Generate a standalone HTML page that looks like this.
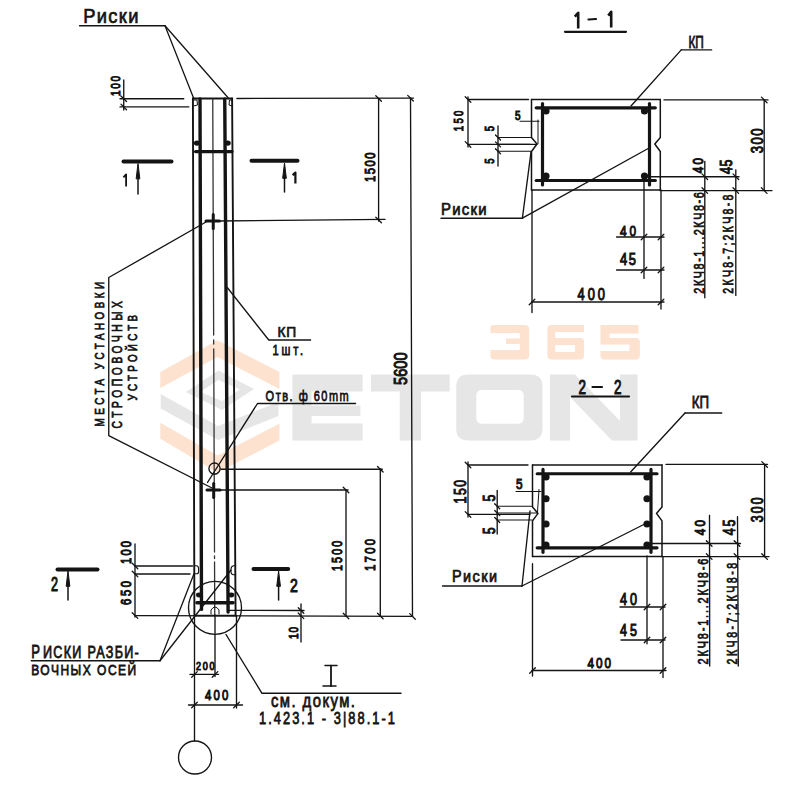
<!DOCTYPE html>
<html><head><meta charset="utf-8"><style>
html,body{margin:0;padding:0;background:#fff;width:800px;height:800px;overflow:hidden}
svg{display:block}
text{font-family:"Liberation Sans",sans-serif}
</style></head><body>
<svg width="800" height="800" viewBox="0 0 800 800">
<rect width="800" height="800" fill="#fff"/>
<g><polygon points="160.3,372 217.5,340.3 279.4,372 279.4,389 217.5,357 160.3,388" fill="#fde2cf"/><polygon points="160.3,422.8 217.5,455.6 279.4,423.8 279.4,440.6 217.5,472.5 160.3,438.8" fill="#fde2cf"/><polygon points="160.7,394 218,426 278.5,402 278.5,416 218,440 160.7,408.6" fill="#e6e6e6"/><path d="M186,392 L218.4,370.5 L254,389 L222,410 Z M200,392 L218.4,380 L240,389.5 L222,401 Z" fill="#e6e6e6" fill-rule="evenodd"/><path d="M292.4,374.6 H362.6 V391.6 H311.6 V405.4 H360.4 V416 H311.6 V423.4 H362.6 V440.4 H292.4 Z" fill="#e6e6e6"/><path d="M371,374.6 H449.7 V391.6 H421 V440.4 H399.7 V391.6 H371 Z" fill="#e6e6e6"/><path d="M468.25,374.5 H530.5 Q542.5,374.5 542.5,386.5 V428.5 Q542.5,440.5 530.5,440.5 H468.25 Q456.25,440.5 456.25,428.5 V386.5 Q456.25,374.5 468.25,374.5 Z M482.25,390 Q476.25,390 476.25,396 V417.75 Q476.25,423.75 482.25,423.75 H517.75 Q523.75,423.75 523.75,417.75 V396 Q523.75,390 517.75,390 Z" fill="#e6e6e6" fill-rule="evenodd"/><path d="M550,374.5 H575 L620,421 V374.5 H637.5 V440.5 H612 L570,397 V440.5 H550 Z" fill="#e6e6e6"/><path d="M493.5,325.1 H525.1 Q529.1,325.1 529.1,329.1 V355.6 Q529.1,359.6 525.1,359.6 H494.5 Q490.5,359.6 490.5,355.6 V350 H519.75 V344 H506 V338.5 H519.75 V333 H490.5 V328.1 Q490.5,325.1 493.5,325.1 Z" fill="#fde2cf"/><path d="M551.4,325.1 H584.1 V332 H555.25 V338 H580.1 Q584.1,338 584.1,342 V355.6 Q584.1,359.6 580.1,359.6 H551.4 Q547.4,359.6 547.4,355.6 V329.1 Q547.4,325.1 551.4,325.1 Z M555.25,345 V352 H575.1 V345 Z" fill="#fde2cf" fill-rule="evenodd"/><path d="M600.5,325.1 H638.5 V333.5 H609.5 V338 H635.9 Q639.9,338 639.9,342 V355.6 Q639.9,359.6 635.9,359.6 H604.5 Q600.5,359.6 600.5,355.6 V351 H629.4 V344.5 H600.5 Z" fill="#fde2cf"/></g>
<g stroke-linecap="round">
<line x1="192.90" y1="98.50" x2="194.40" y2="615.60" stroke="#141414" stroke-width="1.9" />
<line x1="232.10" y1="98.50" x2="235.60" y2="615.60" stroke="#141414" stroke-width="1.9" />
<line x1="192.90" y1="98.50" x2="232.30" y2="98.50" stroke="#141414" stroke-width="1.9" />
<line x1="194.40" y1="615.60" x2="235.60" y2="615.60" stroke="#141414" stroke-width="1.9" />
<line x1="200.00" y1="99.00" x2="201.50" y2="609.40" stroke="#141414" stroke-width="3.4" />
<line x1="224.75" y1="99.00" x2="228.10" y2="612.00" stroke="#141414" stroke-width="3.4" />
<line x1="212.75" y1="99.00" x2="213.66" y2="335.00" stroke="#333" stroke-width="1.3" />
<line x1="213.68" y1="340.00" x2="213.70" y2="344.00" stroke="#333" stroke-width="1.3" />
<line x1="213.72" y1="349.00" x2="214.51" y2="552.00" stroke="#333" stroke-width="1.3" />
<line x1="214.52" y1="556.00" x2="214.53" y2="558.50" stroke="#333" stroke-width="1.3" />
<line x1="214.54" y1="562.00" x2="214.75" y2="615.00" stroke="#333" stroke-width="1.3" />
<line x1="195.60" y1="151.60" x2="231.90" y2="151.60" stroke="#141414" stroke-width="3.4" />
<ellipse cx="196.90" cy="143.10" rx="3.00" ry="2.60" fill="#141414"/>
<ellipse cx="227.75" cy="143.10" rx="3.00" ry="2.60" fill="#141414"/>
<line x1="196.90" y1="602.75" x2="233.10" y2="602.75" stroke="#141414" stroke-width="3.4" />
<ellipse cx="199.00" cy="595.00" rx="3.00" ry="2.40" fill="#141414"/>
<ellipse cx="231.25" cy="595.00" rx="3.00" ry="2.40" fill="#141414"/>
<polyline points="193.50,100.00 197.00,100.00 197.50,105.00 193.50,106.00" fill="none" stroke="#141414" stroke-width="1" stroke-linejoin="round" />
<polyline points="232.00,100.00 229.50,100.00 229.00,105.00 232.30,106.00" fill="none" stroke="#141414" stroke-width="1" stroke-linejoin="round" />
<path d="M194.2,565.8 H196.5 Q198.6,566 198.6,569 V571.5 Q198.6,573.8 196.5,573.8 H194.2" fill="none" stroke="#141414" stroke-width="1.1"/>
<path d="M235.7,565.8 H233.5 Q231,566.5 231,569 V572 Q231,574.5 233.5,574.7 H235.7" fill="none" stroke="#141414" stroke-width="1.1"/>
<path d="M211,614 V610 Q215,604 219,610 V614" fill="none" stroke="#141414" stroke-width="1"/>
<text transform="translate(83.30,23.20) scale(0.9000,1)" x="0.00" y="0" font-size="20.35" font-weight="normal" fill="#141414" textLength="61.22" lengthAdjust="spacing" stroke="#141414" stroke-width="0.7" vector-effect="non-scaling-stroke" >Риски</text>
<line x1="79.50" y1="25.75" x2="165.00" y2="25.75" stroke="#141414" stroke-width="1.3" />
<line x1="165.00" y1="25.75" x2="193.75" y2="98.50" stroke="#141414" stroke-width="1.3" />
<line x1="165.00" y1="25.75" x2="228.75" y2="98.50" stroke="#141414" stroke-width="1.3" />
<line x1="120.00" y1="98.75" x2="183.75" y2="98.75" stroke="#141414" stroke-width="1.35" />
<line x1="120.00" y1="106.90" x2="188.75" y2="106.90" stroke="#141414" stroke-width="1.35" />
<line x1="123.75" y1="80.00" x2="123.75" y2="110.00" stroke="#141414" stroke-width="1.35" />
<line x1="120.95" y1="95.95" x2="126.55" y2="101.55" stroke="#141414" stroke-width="1.3" />
<line x1="120.95" y1="104.10" x2="126.55" y2="109.70" stroke="#141414" stroke-width="1.3" />
<text transform="translate(120.00,96.00) rotate(-90) scale(0.7800,1)" x="0.00" y="0" font-size="12.89" font-weight="normal" fill="#141414" textLength="25.65" lengthAdjust="spacing" stroke="#141414" stroke-width="0.95" vector-effect="non-scaling-stroke" >100</text>
<line x1="236.90" y1="98.50" x2="413.50" y2="98.20" stroke="#141414" stroke-width="1.3" />
<line x1="378.60" y1="98.50" x2="378.60" y2="221.00" stroke="#141414" stroke-width="1.35" />
<line x1="219.40" y1="221.00" x2="385.00" y2="219.40" stroke="#141414" stroke-width="1.35" />
<line x1="375.80" y1="95.70" x2="381.40" y2="101.30" stroke="#141414" stroke-width="1.3" />
<line x1="375.80" y1="217.20" x2="381.40" y2="222.80" stroke="#141414" stroke-width="1.3" />
<text transform="translate(375.00,182.00) rotate(-90) scale(0.7800,1)" x="0.00" y="0" font-size="14.33" font-weight="normal" fill="#141414" textLength="37.82" lengthAdjust="spacing" stroke="#141414" stroke-width="0.95" vector-effect="non-scaling-stroke" >1500</text>
<line x1="410.50" y1="98.00" x2="412.50" y2="616.40" stroke="#141414" stroke-width="1.35" />
<line x1="407.70" y1="95.40" x2="413.30" y2="101.00" stroke="#141414" stroke-width="1.3" />
<line x1="409.70" y1="613.60" x2="415.30" y2="619.20" stroke="#141414" stroke-width="1.3" />
<text transform="translate(407.00,385.00) rotate(-90) scale(0.7800,1)" x="0.00" y="0" font-size="18.62" font-weight="normal" fill="#141414" textLength="41.66" lengthAdjust="spacing" stroke="#141414" stroke-width="0.95" vector-effect="non-scaling-stroke" >5600</text>
<line x1="206.00" y1="221.00" x2="219.40" y2="221.00" stroke="#141414" stroke-width="3" />
<line x1="213.25" y1="214.50" x2="213.25" y2="228.50" stroke="#141414" stroke-width="3" />
<polyline points="206.00,222.00 108.75,277.50 108.75,435.60 212.00,488.00" fill="none" stroke="#141414" stroke-width="1.35" stroke-linejoin="round" />
<text transform="translate(103.50,426.50) rotate(-90) scale(0.7200,1)" x="0.00" y="0" font-size="13.61" font-weight="normal" fill="#141414" textLength="200.69" lengthAdjust="spacing" stroke="#141414" stroke-width="0.7" vector-effect="non-scaling-stroke" >МЕСТА УСТАНОВКИ</text>
<text transform="translate(121.50,428.50) rotate(-90) scale(0.7200,1)" x="0.00" y="0" font-size="14.33" font-weight="normal" fill="#141414" textLength="177.08" lengthAdjust="spacing" stroke="#141414" stroke-width="0.7" vector-effect="non-scaling-stroke" >СТРОПОВОЧНЫХ</text>
<text transform="translate(137.00,400.50) rotate(-90) scale(0.7200,1)" x="0.00" y="0" font-size="13.61" font-weight="normal" fill="#141414" textLength="118.76" lengthAdjust="spacing" stroke="#141414" stroke-width="0.7" vector-effect="non-scaling-stroke" >УСТРОЙСТВ</text>
<line x1="123.50" y1="161.50" x2="171.50" y2="161.50" stroke="#141414" stroke-width="4" />
<line x1="138.00" y1="176.50" x2="138.00" y2="194.00" stroke="#141414" stroke-width="1.5" />
<polygon points="136.20,178.50 138.00,163.50 139.80,178.50" fill="#141414" stroke="#141414" stroke-width="1"/>
<polyline points="123.40,177.40 126.10,174.40 126.10,186.50" fill="none" stroke="#141414" stroke-width="1.8" stroke-linecap="butt" stroke-linejoin="round"/>
<line x1="251.50" y1="160.80" x2="297.50" y2="160.80" stroke="#141414" stroke-width="4" />
<line x1="284.50" y1="176.00" x2="284.50" y2="192.00" stroke="#141414" stroke-width="1.5" />
<polygon points="282.70,178.00 284.50,163.00 286.30,178.00" fill="#141414" stroke="#141414" stroke-width="1"/>
<polyline points="292.60,175.10 295.40,172.60 295.40,183.50" fill="none" stroke="#141414" stroke-width="2.2" stroke-linecap="butt" stroke-linejoin="round"/>
<line x1="57.50" y1="569.50" x2="97.50" y2="569.50" stroke="#141414" stroke-width="4" />
<line x1="68.00" y1="584.00" x2="68.00" y2="600.00" stroke="#141414" stroke-width="1.5" />
<polygon points="66.20,586.00 68.00,571.00 69.80,586.00" fill="#141414" stroke="#141414" stroke-width="1"/>
<text transform="translate(51.00,591.00) scale(0.6509,1)" x="0.00" y="0" font-size="19.34" font-weight="normal" fill="#141414" textLength="10.76" lengthAdjust="spacing" stroke="#141414" stroke-width="0.95" vector-effect="non-scaling-stroke" >2</text>
<line x1="253.50" y1="569.00" x2="288.20" y2="569.00" stroke="#141414" stroke-width="4" />
<line x1="278.60" y1="584.00" x2="278.60" y2="600.00" stroke="#141414" stroke-width="1.5" />
<polygon points="276.80,586.00 278.60,571.00 280.40,586.00" fill="#141414" stroke="#141414" stroke-width="1"/>
<text transform="translate(290.00,591.60) scale(0.7771,1)" x="0.00" y="0" font-size="18.05" font-weight="normal" fill="#141414" textLength="10.04" lengthAdjust="spacing" stroke="#141414" stroke-width="0.95" vector-effect="non-scaling-stroke" >2</text>
<polyline points="227.25,287.50 268.75,340.00 310.60,340.00" fill="none" stroke="#141414" stroke-width="1.3" stroke-linejoin="round" />
<text transform="translate(277.50,336.90) scale(0.9500,1)" x="0.00" y="0" font-size="14.53" font-weight="normal" fill="#141414" textLength="19.74" lengthAdjust="spacing" stroke="#141414" stroke-width="0.7" vector-effect="non-scaling-stroke" >КП</text>
<text transform="translate(272.50,355.00) scale(0.7200,1)" x="0.00" y="0" font-size="15.41" font-weight="normal" fill="#141414" textLength="42.51" lengthAdjust="spacing" stroke="#141414" stroke-width="0.7" vector-effect="non-scaling-stroke" >1шт.</text>
<circle cx="214.50" cy="468.60" r="5.60" fill="none" stroke="#141414" stroke-width="1.35"/>
<polyline points="207.50,482.50 257.50,403.50 355.60,403.50" fill="none" stroke="#141414" stroke-width="1.35" stroke-linejoin="round" />
<text transform="translate(265.60,401.25) scale(0.7200,1)" x="0.00" y="0" font-size="15.26" font-weight="normal" fill="#141414" textLength="115.48" lengthAdjust="spacing" stroke="#141414" stroke-width="0.7" vector-effect="non-scaling-stroke" >Отв. ф 60mm</text>
<line x1="221.00" y1="469.25" x2="382.30" y2="469.25" stroke="#141414" stroke-width="1.35" />
<line x1="219.00" y1="490.00" x2="348.00" y2="490.00" stroke="#141414" stroke-width="1.35" />
<line x1="207.00" y1="490.00" x2="220.00" y2="490.00" stroke="#141414" stroke-width="3" />
<line x1="213.70" y1="483.50" x2="213.70" y2="497.50" stroke="#141414" stroke-width="3" />
<line x1="346.00" y1="490.00" x2="346.00" y2="616.40" stroke="#141414" stroke-width="1.35" />
<line x1="380.30" y1="469.00" x2="380.30" y2="616.40" stroke="#141414" stroke-width="1.35" />
<line x1="343.20" y1="487.20" x2="348.80" y2="492.80" stroke="#141414" stroke-width="1.3" />
<line x1="343.20" y1="613.20" x2="348.80" y2="618.80" stroke="#141414" stroke-width="1.3" />
<line x1="377.50" y1="466.45" x2="383.10" y2="472.05" stroke="#141414" stroke-width="1.3" />
<line x1="377.50" y1="613.20" x2="383.10" y2="618.80" stroke="#141414" stroke-width="1.3" />
<text transform="translate(342.40,571.00) rotate(-90) scale(0.7800,1)" x="0.00" y="0" font-size="13.75" font-weight="normal" fill="#141414" textLength="38.71" lengthAdjust="spacing" stroke="#141414" stroke-width="0.95" vector-effect="non-scaling-stroke" >1500</text>
<text transform="translate(374.90,570.90) rotate(-90) scale(0.7800,1)" x="0.00" y="0" font-size="14.54" font-weight="normal" fill="#141414" textLength="40.89" lengthAdjust="spacing" stroke="#141414" stroke-width="0.95" vector-effect="non-scaling-stroke" >1700</text>
<line x1="135.00" y1="615.60" x2="412.50" y2="616.40" stroke="#141414" stroke-width="1.35" />
<line x1="229.00" y1="610.30" x2="304.00" y2="610.50" stroke="#141414" stroke-width="1.35" />
<line x1="301.00" y1="604.00" x2="301.00" y2="642.00" stroke="#141414" stroke-width="1.35" />
<line x1="298.20" y1="607.70" x2="303.80" y2="613.30" stroke="#141414" stroke-width="1.3" />
<line x1="298.20" y1="613.00" x2="303.80" y2="618.60" stroke="#141414" stroke-width="1.3" />
<text transform="translate(298.00,639.00) rotate(-90) scale(0.7800,1)" x="0.00" y="0" font-size="12.89" font-weight="normal" fill="#141414" textLength="15.39" lengthAdjust="spacing" stroke="#141414" stroke-width="0.95" vector-effect="non-scaling-stroke" >10</text>
<line x1="135.00" y1="544.00" x2="135.00" y2="617.00" stroke="#141414" stroke-width="1.35" />
<line x1="135.00" y1="566.00" x2="192.50" y2="566.00" stroke="#141414" stroke-width="1.35" />
<line x1="135.00" y1="574.00" x2="190.00" y2="574.00" stroke="#141414" stroke-width="1.35" />
<line x1="132.20" y1="563.20" x2="137.80" y2="568.80" stroke="#141414" stroke-width="1.3" />
<line x1="132.20" y1="571.20" x2="137.80" y2="576.80" stroke="#141414" stroke-width="1.3" />
<line x1="132.20" y1="612.80" x2="137.80" y2="618.40" stroke="#141414" stroke-width="1.3" />
<text transform="translate(131.00,564.00) rotate(-90) scale(0.7800,1)" x="0.00" y="0" font-size="14.33" font-weight="normal" fill="#141414" textLength="29.49" lengthAdjust="spacing" stroke="#141414" stroke-width="0.95" vector-effect="non-scaling-stroke" >100</text>
<text transform="translate(131.00,605.00) rotate(-90) scale(0.7800,1)" x="0.00" y="0" font-size="14.33" font-weight="normal" fill="#141414" textLength="30.78" lengthAdjust="spacing" stroke="#141414" stroke-width="0.95" vector-effect="non-scaling-stroke" >650</text>
<circle cx="215.00" cy="607.80" r="26.50" fill="none" stroke="#141414" stroke-width="1.35"/>
<line x1="31.25" y1="660.75" x2="160.00" y2="660.75" stroke="#141414" stroke-width="1.4" />
<line x1="160.00" y1="660.75" x2="194.00" y2="573.75" stroke="#141414" stroke-width="1.3" />
<line x1="160.00" y1="660.75" x2="231.00" y2="570.00" stroke="#141414" stroke-width="1.3" />
<text transform="translate(31.25,657.50) scale(0.7200,1)" x="0.00" y="0" font-size="18.17" font-weight="normal" fill="#141414" textLength="12.15" lengthAdjust="spacing" stroke="#141414" stroke-width="0.7" vector-effect="non-scaling-stroke" >Р</text>
<text transform="translate(43.00,657.50) scale(0.8000,1)" x="0.00" y="0" font-size="15.76" font-weight="normal" fill="#141414" textLength="119.69" lengthAdjust="spacing" stroke="#141414" stroke-width="0.7" vector-effect="non-scaling-stroke" >ИСКИ РАЗБИ-</text>
<text transform="translate(31.25,675.00) scale(0.8000,1)" x="0.00" y="0" font-size="15.04" font-weight="normal" fill="#141414" textLength="131.25" lengthAdjust="spacing" stroke="#141414" stroke-width="0.7" vector-effect="non-scaling-stroke" >ВОЧНЫХ ОСЕЙ</text>
<line x1="194.50" y1="615.60" x2="194.50" y2="741.00" stroke="#141414" stroke-width="1.35" />
<line x1="215.00" y1="615.00" x2="215.00" y2="676.50" stroke="#141414" stroke-width="1.35" />
<line x1="236.50" y1="615.60" x2="236.50" y2="708.00" stroke="#141414" stroke-width="1.35" />
<line x1="190.00" y1="674.40" x2="218.50" y2="674.40" stroke="#141414" stroke-width="1.35" />
<line x1="191.70" y1="677.20" x2="197.30" y2="671.60" stroke="#141414" stroke-width="1.3" />
<line x1="212.20" y1="677.20" x2="217.80" y2="671.60" stroke="#141414" stroke-width="1.3" />
<text transform="translate(196.00,669.60) scale(0.7800,1)" x="0.00" y="0" font-size="11.60" font-weight="normal" fill="#141414" textLength="23.85" lengthAdjust="spacing" stroke="#141414" stroke-width="0.95" vector-effect="non-scaling-stroke" >200</text>
<line x1="188.50" y1="705.00" x2="242.50" y2="705.00" stroke="#141414" stroke-width="1.35" />
<line x1="191.70" y1="707.80" x2="197.30" y2="702.20" stroke="#141414" stroke-width="1.3" />
<line x1="233.70" y1="707.80" x2="239.30" y2="702.20" stroke="#141414" stroke-width="1.3" />
<text transform="translate(205.00,699.60) scale(0.7800,1)" x="0.00" y="0" font-size="14.61" font-weight="normal" fill="#141414" textLength="30.01" lengthAdjust="spacing" stroke="#141414" stroke-width="0.95" vector-effect="non-scaling-stroke" >400</text>
<circle cx="195.00" cy="757.50" r="16.50" fill="none" stroke="#141414" stroke-width="1.35"/>
<polyline points="226.00,634.50 262.00,693.30 401.00,693.30" fill="none" stroke="#141414" stroke-width="1.4" stroke-linejoin="round" />
<line x1="325.00" y1="665.60" x2="337.00" y2="665.60" stroke="#141414" stroke-width="1.5" />
<line x1="331.00" y1="665.60" x2="331.00" y2="686.00" stroke="#141414" stroke-width="1.8" />
<line x1="323.00" y1="686.00" x2="336.00" y2="686.00" stroke="#141414" stroke-width="1.5" />
<text transform="translate(271.00,707.00) scale(0.8000,1)" x="0.00" y="0" font-size="18.59" font-weight="normal" fill="#141414" textLength="104.99" lengthAdjust="spacing" stroke="#141414" stroke-width="0.7" vector-effect="non-scaling-stroke" >см. докум.</text>
<text transform="translate(259.00,724.00) scale(0.8000,1)" x="0.00" y="0" font-size="16.00" font-weight="normal" fill="#141414" textLength="169.99" lengthAdjust="spacing" stroke="#141414" stroke-width="0.7" vector-effect="non-scaling-stroke" >1.423.1 - 3|88.1-1</text>
<polyline points="574.80,16.60 578.20,12.80 578.20,28.50" fill="none" stroke="#141414" stroke-width="2.6" stroke-linecap="butt" stroke-linejoin="round"/>
<line x1="588.50" y1="19.50" x2="596.00" y2="19.00" stroke="#141414" stroke-width="2.2" />
<polyline points="608.30,15.60 611.20,11.80 611.20,27.50" fill="none" stroke="#141414" stroke-width="2.6" stroke-linecap="butt" stroke-linejoin="round"/>
<line x1="565.00" y1="31.80" x2="626.00" y2="31.80" stroke="#141414" stroke-width="2.2" />
<line x1="531.50" y1="99.50" x2="660.30" y2="99.50" stroke="#141414" stroke-width="1.5" />
<line x1="531.50" y1="190.00" x2="660.30" y2="190.00" stroke="#141414" stroke-width="1.5" />
<polyline points="531.50,99.50 531.50,137.50 537.00,144.00 531.50,151.50 531.50,190.00" fill="none" stroke="#141414" stroke-width="1.5" stroke-linejoin="round" />
<polyline points="660.30,99.50 660.30,137.50 654.80,144.00 660.30,151.50 660.30,190.00" fill="none" stroke="#141414" stroke-width="1.5" stroke-linejoin="round" />
<line x1="536.20" y1="107.80" x2="655.30" y2="107.80" stroke="#141414" stroke-width="3.2" />
<line x1="536.20" y1="180.50" x2="655.30" y2="180.50" stroke="#141414" stroke-width="3.2" />
<line x1="542.50" y1="103.50" x2="542.50" y2="185.00" stroke="#141414" stroke-width="3.2" />
<line x1="649.50" y1="103.50" x2="649.50" y2="185.00" stroke="#141414" stroke-width="3.2" />
<ellipse cx="546.00" cy="111.00" rx="3.60" ry="3.60" fill="#141414"/>
<ellipse cx="546.00" cy="176.00" rx="3.60" ry="3.60" fill="#141414"/>
<ellipse cx="644.50" cy="111.00" rx="3.60" ry="3.60" fill="#141414"/>
<ellipse cx="644.50" cy="176.00" rx="3.60" ry="3.60" fill="#141414"/>
<text transform="translate(688.40,47.60) scale(0.7248,1)" x="0.00" y="0" font-size="16.28" font-weight="normal" fill="#141414" textLength="21.18" lengthAdjust="spacing" stroke="#141414" stroke-width="0.7" vector-effect="non-scaling-stroke" >КП</text>
<line x1="681.25" y1="49.90" x2="711.60" y2="49.90" stroke="#141414" stroke-width="1.4" />
<line x1="681.25" y1="49.90" x2="631.00" y2="106.00" stroke="#141414" stroke-width="1.35" />
<line x1="468.00" y1="99.50" x2="528.50" y2="99.50" stroke="#141414" stroke-width="1.35" />
<line x1="468.00" y1="144.40" x2="530.00" y2="144.40" stroke="#141414" stroke-width="1.35" />
<line x1="468.00" y1="97.00" x2="468.00" y2="147.00" stroke="#141414" stroke-width="1.35" />
<line x1="465.20" y1="96.70" x2="470.80" y2="102.30" stroke="#141414" stroke-width="1.3" />
<line x1="465.20" y1="141.60" x2="470.80" y2="147.20" stroke="#141414" stroke-width="1.3" />
<text transform="translate(463.00,131.25) rotate(-90) scale(0.7800,1)" x="0.00" y="0" font-size="12.32" font-weight="normal" fill="#141414" textLength="26.48" lengthAdjust="spacing" stroke="#141414" stroke-width="0.95" vector-effect="non-scaling-stroke" >150</text>
<line x1="498.00" y1="126.00" x2="498.00" y2="166.00" stroke="#141414" stroke-width="1.35" />
<line x1="498.00" y1="137.50" x2="531.00" y2="137.50" stroke="#141414" stroke-width="1.1" />
<line x1="495.50" y1="135.00" x2="500.50" y2="140.00" stroke="#141414" stroke-width="1.3" />
<line x1="498.00" y1="144.40" x2="537.00" y2="144.40" stroke="#141414" stroke-width="1.1" />
<line x1="495.50" y1="141.90" x2="500.50" y2="146.90" stroke="#141414" stroke-width="1.3" />
<line x1="498.00" y1="151.25" x2="531.00" y2="151.25" stroke="#141414" stroke-width="1.1" />
<line x1="495.50" y1="148.75" x2="500.50" y2="153.75" stroke="#141414" stroke-width="1.3" />
<text transform="translate(494.40,131.25) rotate(-90) scale(0.7800,1)" x="0.00" y="0" font-size="12.21" font-weight="normal" fill="#141414" textLength="8.01" lengthAdjust="spacing" stroke="#141414" stroke-width="0.95" vector-effect="non-scaling-stroke" >5</text>
<text transform="translate(494.40,163.75) rotate(-90) scale(0.7800,1)" x="0.00" y="0" font-size="12.21" font-weight="normal" fill="#141414" textLength="8.01" lengthAdjust="spacing" stroke="#141414" stroke-width="0.95" vector-effect="non-scaling-stroke" >5</text>
<text transform="translate(515.00,120.00) scale(0.7800,1)" x="0.00" y="0" font-size="12.72" font-weight="normal" fill="#141414" textLength="8.85" lengthAdjust="spacing" stroke="#141414" stroke-width="0.95" vector-effect="non-scaling-stroke" >5</text>
<line x1="520.00" y1="121.25" x2="539.00" y2="121.25" stroke="#141414" stroke-width="1.1" />
<line x1="538.00" y1="120.00" x2="538.00" y2="143.75" stroke="#141414" stroke-width="1" />
<line x1="664.00" y1="99.90" x2="768.00" y2="99.90" stroke="#141414" stroke-width="1.35" />
<line x1="660.00" y1="190.60" x2="772.00" y2="190.60" stroke="#141414" stroke-width="1.35" />
<line x1="764.20" y1="99.90" x2="764.20" y2="190.60" stroke="#141414" stroke-width="1.35" />
<line x1="761.40" y1="97.10" x2="767.00" y2="102.70" stroke="#141414" stroke-width="1.3" />
<line x1="761.40" y1="187.80" x2="767.00" y2="193.40" stroke="#141414" stroke-width="1.3" />
<text transform="translate(762.50,153.30) rotate(-90) scale(0.7800,1)" x="0.00" y="0" font-size="16.76" font-weight="normal" fill="#141414" textLength="31.80" lengthAdjust="spacing" stroke="#141414" stroke-width="0.95" vector-effect="non-scaling-stroke" >300</text>
<line x1="644.40" y1="176.70" x2="739.00" y2="176.70" stroke="#141414" stroke-width="1.35" />
<line x1="704.80" y1="161.50" x2="704.80" y2="297.80" stroke="#141414" stroke-width="1.35" />
<line x1="735.80" y1="169.80" x2="735.80" y2="295.40" stroke="#141414" stroke-width="1.35" />
<line x1="702.00" y1="173.90" x2="707.60" y2="179.50" stroke="#141414" stroke-width="1.3" />
<line x1="702.00" y1="187.80" x2="707.60" y2="193.40" stroke="#141414" stroke-width="1.3" />
<line x1="733.00" y1="173.90" x2="738.60" y2="179.50" stroke="#141414" stroke-width="1.3" />
<line x1="733.00" y1="187.80" x2="738.60" y2="193.40" stroke="#141414" stroke-width="1.3" />
<text transform="translate(703.40,173.20) rotate(-90) scale(0.7800,1)" x="0.00" y="0" font-size="14.90" font-weight="normal" fill="#141414" textLength="19.49" lengthAdjust="spacing" stroke="#141414" stroke-width="0.95" vector-effect="non-scaling-stroke" >40</text>
<text transform="translate(732.30,174.00) rotate(-90) scale(0.7800,1)" x="0.00" y="0" font-size="15.99" font-weight="normal" fill="#141414" textLength="18.59" lengthAdjust="spacing" stroke="#141414" stroke-width="0.95" vector-effect="non-scaling-stroke" >45</text>
<text transform="translate(703.50,293.70) rotate(-90) scale(0.7200,1)" x="0.00" y="0" font-size="15.04" font-weight="normal" fill="#141414" textLength="140.98" lengthAdjust="spacing" stroke="#141414" stroke-width="0.7" vector-effect="non-scaling-stroke" >2КЧ8-1...2КЧ8-6</text>
<text transform="translate(732.80,293.70) rotate(-90) scale(0.7200,1)" x="0.00" y="0" font-size="14.61" font-weight="normal" fill="#141414" textLength="137.64" lengthAdjust="spacing" stroke="#141414" stroke-width="0.7" vector-effect="non-scaling-stroke" >2КЧ8-7;2КЧ8-8</text>
<line x1="644.00" y1="176.00" x2="644.00" y2="278.40" stroke="#141414" stroke-width="1.35" />
<line x1="661.00" y1="190.00" x2="661.00" y2="309.00" stroke="#141414" stroke-width="1.35" />
<line x1="532.00" y1="190.00" x2="532.00" y2="312.50" stroke="#141414" stroke-width="1.35" />
<line x1="616.60" y1="237.00" x2="664.00" y2="237.00" stroke="#141414" stroke-width="1.35" />
<line x1="616.60" y1="270.00" x2="664.00" y2="270.00" stroke="#141414" stroke-width="1.35" />
<line x1="641.20" y1="239.80" x2="646.80" y2="234.20" stroke="#141414" stroke-width="1.3" />
<line x1="658.20" y1="239.80" x2="663.80" y2="234.20" stroke="#141414" stroke-width="1.3" />
<line x1="641.20" y1="272.80" x2="646.80" y2="267.20" stroke="#141414" stroke-width="1.3" />
<line x1="658.20" y1="272.80" x2="663.80" y2="267.20" stroke="#141414" stroke-width="1.3" />
<text transform="translate(620.00,236.00) scale(0.7800,1)" x="0.00" y="0" font-size="15.19" font-weight="normal" fill="#141414" textLength="20.52" lengthAdjust="spacing" stroke="#141414" stroke-width="0.95" vector-effect="non-scaling-stroke" >40</text>
<text transform="translate(620.00,265.40) scale(0.7800,1)" x="0.00" y="0" font-size="16.57" font-weight="normal" fill="#141414" textLength="20.52" lengthAdjust="spacing" stroke="#141414" stroke-width="0.95" vector-effect="non-scaling-stroke" >45</text>
<line x1="532.00" y1="302.00" x2="664.00" y2="302.00" stroke="#141414" stroke-width="1.35" />
<line x1="529.20" y1="304.80" x2="534.80" y2="299.20" stroke="#141414" stroke-width="1.3" />
<line x1="658.20" y1="304.80" x2="663.80" y2="299.20" stroke="#141414" stroke-width="1.3" />
<text transform="translate(577.60,299.50) scale(0.7800,1)" x="0.00" y="0" font-size="16.48" font-weight="normal" fill="#141414" textLength="35.14" lengthAdjust="spacing" stroke="#141414" stroke-width="0.95" vector-effect="non-scaling-stroke" >400</text>
<text transform="translate(441.00,215.00) scale(0.9000,1)" x="0.00" y="0" font-size="16.57" font-weight="normal" fill="#141414" textLength="50.66" lengthAdjust="spacing" stroke="#141414" stroke-width="0.7" vector-effect="non-scaling-stroke" >Риски</text>
<line x1="441.00" y1="218.20" x2="522.40" y2="218.20" stroke="#141414" stroke-width="1.4" />
<line x1="522.40" y1="218.20" x2="531.00" y2="152.00" stroke="#141414" stroke-width="1.35" />
<line x1="522.40" y1="218.20" x2="650.00" y2="147.50" stroke="#141414" stroke-width="1.35" />
<text transform="translate(578.50,393.50) scale(0.6725,1)" x="0.00" y="0" font-size="20.06" font-weight="normal" fill="#141414" textLength="11.15" lengthAdjust="spacing" stroke="#141414" stroke-width="0.95" vector-effect="non-scaling-stroke" >2</text>
<line x1="592.50" y1="387.00" x2="602.00" y2="387.00" stroke="#141414" stroke-width="2.2" />
<text transform="translate(614.00,393.50) scale(0.6725,1)" x="0.00" y="0" font-size="20.06" font-weight="normal" fill="#141414" textLength="11.15" lengthAdjust="spacing" stroke="#141414" stroke-width="0.95" vector-effect="non-scaling-stroke" >2</text>
<line x1="572.00" y1="396.50" x2="629.00" y2="396.50" stroke="#141414" stroke-width="2.2" />
<line x1="532.50" y1="465.00" x2="662.00" y2="465.00" stroke="#141414" stroke-width="1.5" />
<line x1="532.50" y1="556.60" x2="662.00" y2="556.60" stroke="#141414" stroke-width="1.5" />
<polyline points="532.50,465.00 532.50,506.90 538.00,513.40 532.50,520.90 532.50,556.60" fill="none" stroke="#141414" stroke-width="1.5" stroke-linejoin="round" />
<polyline points="662.00,465.00 662.00,506.90 656.50,513.40 662.00,520.90 662.00,556.60" fill="none" stroke="#141414" stroke-width="1.5" stroke-linejoin="round" />
<line x1="537.20" y1="473.75" x2="657.00" y2="473.75" stroke="#141414" stroke-width="3.2" />
<line x1="537.20" y1="547.80" x2="657.00" y2="547.80" stroke="#141414" stroke-width="3.2" />
<line x1="543.00" y1="469.45" x2="543.00" y2="552.30" stroke="#141414" stroke-width="3.2" />
<line x1="651.00" y1="469.45" x2="651.00" y2="552.30" stroke="#141414" stroke-width="3.2" />
<ellipse cx="546.00" cy="477.00" rx="3.60" ry="3.60" fill="#141414"/>
<ellipse cx="546.00" cy="498.75" rx="3.60" ry="3.60" fill="#141414"/>
<ellipse cx="546.00" cy="524.00" rx="3.60" ry="3.60" fill="#141414"/>
<ellipse cx="546.00" cy="545.00" rx="3.60" ry="3.60" fill="#141414"/>
<ellipse cx="647.00" cy="477.00" rx="3.60" ry="3.60" fill="#141414"/>
<ellipse cx="647.00" cy="498.75" rx="3.60" ry="3.60" fill="#141414"/>
<ellipse cx="647.00" cy="524.00" rx="3.60" ry="3.60" fill="#141414"/>
<ellipse cx="647.00" cy="545.00" rx="3.60" ry="3.60" fill="#141414"/>
<text transform="translate(691.70,408.00) scale(0.8317,1)" x="0.00" y="0" font-size="15.99" font-weight="normal" fill="#141414" textLength="20.81" lengthAdjust="spacing" stroke="#141414" stroke-width="0.7" vector-effect="non-scaling-stroke" >КП</text>
<line x1="685.00" y1="413.00" x2="721.70" y2="413.00" stroke="#141414" stroke-width="1.4" />
<line x1="685.00" y1="413.00" x2="630.60" y2="472.00" stroke="#141414" stroke-width="1.35" />
<line x1="468.00" y1="465.00" x2="528.00" y2="465.00" stroke="#141414" stroke-width="1.35" />
<line x1="468.00" y1="514.40" x2="530.00" y2="514.40" stroke="#141414" stroke-width="1.35" />
<line x1="468.00" y1="462.00" x2="468.00" y2="517.00" stroke="#141414" stroke-width="1.35" />
<line x1="465.20" y1="462.20" x2="470.80" y2="467.80" stroke="#141414" stroke-width="1.3" />
<line x1="465.20" y1="511.60" x2="470.80" y2="517.20" stroke="#141414" stroke-width="1.3" />
<text transform="translate(466.00,503.40) rotate(-90) scale(0.7800,1)" x="0.00" y="0" font-size="15.76" font-weight="normal" fill="#141414" textLength="30.01" lengthAdjust="spacing" stroke="#141414" stroke-width="0.95" vector-effect="non-scaling-stroke" >150</text>
<line x1="497.20" y1="490.50" x2="497.20" y2="534.00" stroke="#141414" stroke-width="1.35" />
<line x1="497.20" y1="506.20" x2="532.00" y2="506.20" stroke="#141414" stroke-width="1.1" />
<line x1="494.70" y1="503.70" x2="499.70" y2="508.70" stroke="#141414" stroke-width="1.3" />
<line x1="497.20" y1="513.00" x2="537.50" y2="513.00" stroke="#141414" stroke-width="1.1" />
<line x1="494.70" y1="510.50" x2="499.70" y2="515.50" stroke="#141414" stroke-width="1.3" />
<line x1="497.20" y1="520.00" x2="532.00" y2="520.00" stroke="#141414" stroke-width="1.1" />
<line x1="494.70" y1="517.50" x2="499.70" y2="522.50" stroke="#141414" stroke-width="1.3" />
<text transform="translate(495.00,501.50) rotate(-90) scale(0.7800,1)" x="0.00" y="0" font-size="15.99" font-weight="normal" fill="#141414" textLength="8.98" lengthAdjust="spacing" stroke="#141414" stroke-width="0.95" vector-effect="non-scaling-stroke" >5</text>
<text transform="translate(495.00,534.00) rotate(-90) scale(0.7312,1)" x="0.00" y="0" font-size="15.99" font-weight="normal" fill="#141414" textLength="8.89" lengthAdjust="spacing" stroke="#141414" stroke-width="0.95" vector-effect="non-scaling-stroke" >5</text>
<text transform="translate(516.00,489.40) scale(0.7800,1)" x="0.00" y="0" font-size="15.12" font-weight="normal" fill="#141414" textLength="8.72" lengthAdjust="spacing" stroke="#141414" stroke-width="0.95" vector-effect="non-scaling-stroke" >5</text>
<line x1="516.00" y1="491.50" x2="541.00" y2="491.50" stroke="#141414" stroke-width="1.1" />
<line x1="539.00" y1="489.50" x2="537.50" y2="512.00" stroke="#141414" stroke-width="1" />
<text transform="translate(452.00,581.60) scale(0.9000,1)" x="0.00" y="0" font-size="15.99" font-weight="normal" fill="#141414" textLength="50.00" lengthAdjust="spacing" stroke="#141414" stroke-width="0.7" vector-effect="non-scaling-stroke" >Риски</text>
<line x1="442.50" y1="586.00" x2="522.00" y2="586.00" stroke="#141414" stroke-width="1.4" />
<line x1="522.00" y1="586.00" x2="530.00" y2="511.00" stroke="#141414" stroke-width="1.35" />
<line x1="522.00" y1="586.00" x2="648.75" y2="522.00" stroke="#141414" stroke-width="1.35" />
<line x1="666.00" y1="464.40" x2="767.50" y2="464.40" stroke="#141414" stroke-width="1.35" />
<line x1="662.00" y1="556.60" x2="769.00" y2="556.60" stroke="#141414" stroke-width="1.35" />
<line x1="764.60" y1="464.40" x2="764.60" y2="556.60" stroke="#141414" stroke-width="1.35" />
<line x1="761.80" y1="461.60" x2="767.40" y2="467.20" stroke="#141414" stroke-width="1.3" />
<line x1="761.80" y1="553.80" x2="767.40" y2="559.40" stroke="#141414" stroke-width="1.3" />
<text transform="translate(762.50,522.20) rotate(-90) scale(0.7800,1)" x="0.00" y="0" font-size="15.76" font-weight="normal" fill="#141414" textLength="31.67" lengthAdjust="spacing" stroke="#141414" stroke-width="0.95" vector-effect="non-scaling-stroke" >300</text>
<line x1="647.50" y1="543.50" x2="740.50" y2="543.50" stroke="#141414" stroke-width="1.35" />
<line x1="709.50" y1="515.30" x2="709.70" y2="666.00" stroke="#141414" stroke-width="1.35" />
<line x1="737.50" y1="516.70" x2="738.30" y2="666.00" stroke="#141414" stroke-width="1.35" />
<line x1="706.40" y1="540.70" x2="712.00" y2="546.30" stroke="#141414" stroke-width="1.3" />
<line x1="706.40" y1="553.80" x2="712.00" y2="559.40" stroke="#141414" stroke-width="1.3" />
<line x1="734.20" y1="540.70" x2="739.80" y2="546.30" stroke="#141414" stroke-width="1.3" />
<line x1="734.20" y1="553.80" x2="739.80" y2="559.40" stroke="#141414" stroke-width="1.3" />
<text transform="translate(705.40,535.30) rotate(-90) scale(0.7800,1)" x="0.00" y="0" font-size="14.90" font-weight="normal" fill="#141414" textLength="19.62" lengthAdjust="spacing" stroke="#141414" stroke-width="0.95" vector-effect="non-scaling-stroke" >40</text>
<text transform="translate(735.00,535.30) rotate(-90) scale(0.7800,1)" x="0.00" y="0" font-size="15.99" font-weight="normal" fill="#141414" textLength="20.26" lengthAdjust="spacing" stroke="#141414" stroke-width="0.95" vector-effect="non-scaling-stroke" >45</text>
<text transform="translate(707.75,664.40) rotate(-90) scale(0.7200,1)" x="0.00" y="0" font-size="15.11" font-weight="normal" fill="#141414" textLength="146.67" lengthAdjust="spacing" stroke="#141414" stroke-width="0.7" vector-effect="non-scaling-stroke" >2КЧ8-1...2КЧ8-6</text>
<text transform="translate(736.70,664.40) rotate(-90) scale(0.7200,1)" x="0.00" y="0" font-size="14.76" font-weight="normal" fill="#141414" textLength="140.97" lengthAdjust="spacing" stroke="#141414" stroke-width="0.7" vector-effect="non-scaling-stroke" >2КЧ8-7;2КЧ8-8</text>
<line x1="647.00" y1="556.00" x2="647.00" y2="643.75" stroke="#141414" stroke-width="1.35" />
<line x1="663.00" y1="557.00" x2="663.00" y2="677.50" stroke="#141414" stroke-width="1.35" />
<line x1="532.50" y1="563.75" x2="532.50" y2="676.00" stroke="#141414" stroke-width="1.35" />
<line x1="620.00" y1="607.00" x2="665.00" y2="607.00" stroke="#141414" stroke-width="1.35" />
<line x1="621.00" y1="640.00" x2="665.00" y2="640.00" stroke="#141414" stroke-width="1.35" />
<line x1="644.20" y1="609.80" x2="649.80" y2="604.20" stroke="#141414" stroke-width="1.3" />
<line x1="660.20" y1="609.80" x2="665.80" y2="604.20" stroke="#141414" stroke-width="1.3" />
<line x1="644.20" y1="642.80" x2="649.80" y2="637.20" stroke="#141414" stroke-width="1.3" />
<line x1="660.20" y1="642.80" x2="665.80" y2="637.20" stroke="#141414" stroke-width="1.3" />
<text transform="translate(620.00,605.00) scale(0.7800,1)" x="0.00" y="0" font-size="16.12" font-weight="normal" fill="#141414" textLength="21.80" lengthAdjust="spacing" stroke="#141414" stroke-width="0.95" vector-effect="non-scaling-stroke" >40</text>
<text transform="translate(620.00,636.00) scale(0.7800,1)" x="0.00" y="0" font-size="15.99" font-weight="normal" fill="#141414" textLength="21.80" lengthAdjust="spacing" stroke="#141414" stroke-width="0.95" vector-effect="non-scaling-stroke" >45</text>
<line x1="532.00" y1="670.50" x2="666.00" y2="670.50" stroke="#141414" stroke-width="1.35" />
<line x1="529.70" y1="673.30" x2="535.30" y2="667.70" stroke="#141414" stroke-width="1.3" />
<line x1="660.20" y1="673.30" x2="665.80" y2="667.70" stroke="#141414" stroke-width="1.3" />
<text transform="translate(587.50,668.00) scale(0.7800,1)" x="0.00" y="0" font-size="15.04" font-weight="normal" fill="#141414" textLength="30.14" lengthAdjust="spacing" stroke="#141414" stroke-width="0.95" vector-effect="non-scaling-stroke" >400</text>
</g>
</svg>
</body></html>
